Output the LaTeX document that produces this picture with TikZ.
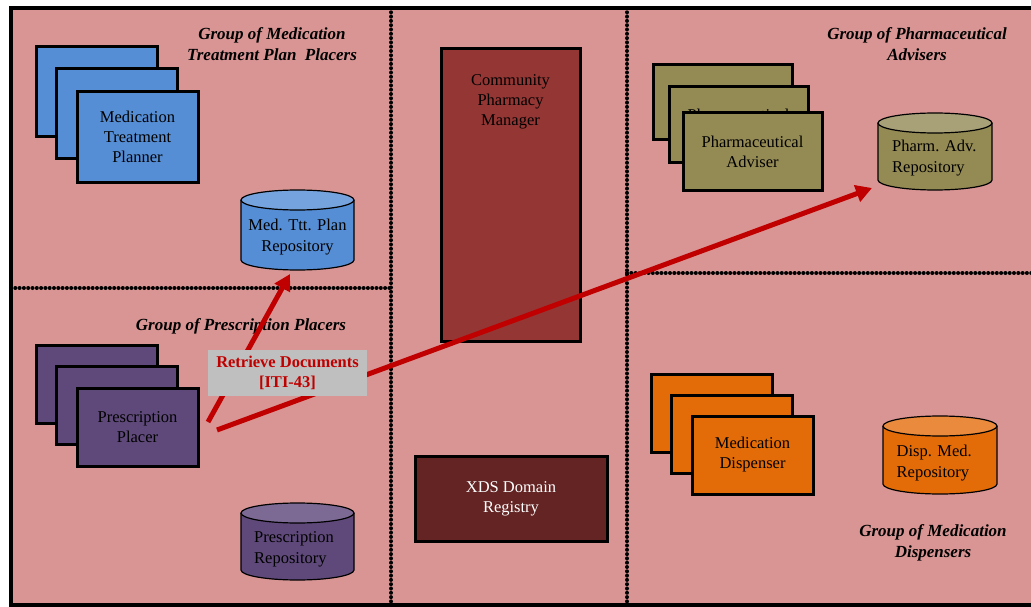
\documentclass[tikz,border=0pt]{standalone}
\usepackage{fontspec}
\setmainfont{Liberation Serif}
\usetikzlibrary{arrows.meta}

\definecolor{zonepink}{HTML}{D99594}
\definecolor{planblue}{HTML}{558ED5}
\definecolor{planbluetop}{HTML}{75A3DD}
\definecolor{advolive}{HTML}{948A54}
\definecolor{advolivetop}{HTML}{A8A077}
\definecolor{rxpurple}{HTML}{5F497A}
\definecolor{rxpurpletop}{HTML}{7C6A95}
\definecolor{disporange}{HTML}{E36C09}
\definecolor{disporangetop}{HTML}{E98A3C}
\definecolor{cpmred}{HTML}{943634}
\definecolor{xdsred}{HTML}{632423}
\definecolor{txred}{HTML}{C00000}
\definecolor{txgray}{HTML}{BFBFBF}

% repository drum: centre, half width, half height, body colour, top colour
\newcommand{\repocyl}[5]{%
  \draw[line width=1.2pt, fill=#4] ([shift={(-#2pt,#3pt-10pt)}]#1)
    -- ++(0pt,-2*#3pt+20pt)
    arc[start angle=180, end angle=360, x radius=#2pt, y radius=10pt]
    -- ++(0pt,2*#3pt-20pt);
  \draw[line width=1.2pt, fill=#5] ([yshift=#3pt-10pt]#1)
    ellipse[x radius=#2pt, y radius=10pt];
}

\tikzset{
  actor/.style={draw, line width=3pt, minimum width=121pt, minimum height=78pt,
    align=center, inner sep=0pt, font=\fontsize{16.5}{20}\selectfont},
  repotext/.style={font=\fontsize{16.5}{21}\selectfont, inner sep=0pt},
  grouplabel/.style={align=center, font=\bfseries\itshape\fontsize{17}{21}\selectfont},
  zoneline/.style={line width=4pt, line cap=round, dash pattern=on 0pt off 4.3pt},
  txline/.style={draw=txred, line width=5pt, -{Triangle[length=16pt,width=17pt]}}
}

\begin{document}
\begin{tikzpicture}[x=1pt, y=-1pt]
  \useasboundingbox (0,0) rectangle (1031,607);

  % Frame and zones
  \draw[line width=4pt, fill=zonepink] (11,8) rectangle (1050,605);
  \draw[zoneline] (391,8) -- (391,605);
  \draw[zoneline] (627,8) -- (627,605);
  \draw[zoneline] (11,288) -- (391,288);
  \draw[zoneline] (627,273) -- (1050,273);

  % Group labels
  \node[grouplabel] (gplan) at (272,44) {Group of Medication\\Treatment Plan~~Placers};
  \node[grouplabel] (gadv) at (917,44) {Group of Pharmaceutical\\Advisers};
  \node[grouplabel] (grx) at (241,326) {Group of Prescription Placers};
  \node[grouplabel] (gdisp) at (933,543) {Group of Medication\\Dispensers};

  % Medication treatment planner
  \node[actor, fill=planblue, minimum height=90pt] (planA) at (96.5,92) {};
  \node[actor, fill=planblue, minimum height=90pt] (planB) at (117,114) {};
  \node[actor, fill=planblue, minimum height=90pt] (planC) at (137.5,137) {Medication\\Treatment\\Planner};
  \coordinate (planrepoc) at (297.5,230);
  \repocyl{planrepoc}{56.5}{40}{planblue}{planbluetop}
  \node[repotext, align=center] (planrepo) at (297.5,237.5) {Med. Ttt. Plan\\Repository};

  % Prescription placer
  \node[actor, fill=rxpurple] (rxA) at (96.5,384) {};
  \node[actor, fill=rxpurple] (rxB) at (116.5,405) {};
  \node[actor, fill=rxpurple] (rxC) at (137.5,427) {Prescription\\Placer};
  \coordinate (rxrepoc) at (297.5,541.5);
  \repocyl{rxrepoc}{56.5}{38.5}{rxpurple}{rxpurpletop}
  \node[repotext, align=left, anchor=west] (rxrepo) at (254,549.5) {Prescription\\Repository};

  % Community pharmacy manager and registry
  \node[draw, line width=3pt, fill=cpmred, minimum width=139pt, minimum height=292pt,
    inner sep=0pt] (cpm) at (510.5,195) {};
  \node[anchor=north, align=center, font=\fontsize{16.5}{20}\selectfont] (cpmtext)
    at (510.5,71) {Community\\Pharmacy\\Manager};
  \node[draw, line width=3pt, fill=xdsred, text=white, minimum width=192pt,
    minimum height=85pt, align=center, font=\fontsize{16.5}{20}\selectfont]
    (xds) at (511,498.5) {XDS Domain\\Registry};

  % Pharmaceutical adviser
  \node[actor, fill=advolive, minimum width=139pt, minimum height=75pt] (advA) at (722.5,102.5) {};
  \node[actor, fill=advolive, minimum width=139pt, minimum height=76pt] (advB) at (738.5,125) {Pharmaceutical\\Adviser};
  \node[actor, fill=advolive, minimum width=139pt, minimum height=77pt] (advC) at (752.5,151.5) {Pharmaceutical\\Adviser};
  \coordinate (advrepoc) at (935,151.5);
  \repocyl{advrepoc}{57}{38.5}{advolive}{advolivetop}
  \node[repotext, align=left, anchor=west] (advrepo) at (892,158.5) {Pharm. Adv.\\Repository};

  % Medication dispenser
  \node[actor, fill=disporange] (dispA) at (711.5,413) {};
  \node[actor, fill=disporange] (dispB) at (731.5,434.5) {};
  \node[actor, fill=disporange] (dispC) at (752.5,455) {Medication\\Dispenser};
  \coordinate (disprepoc) at (940,455);
  \repocyl{disprepoc}{57}{39}{disporange}{disporangetop}
  \node[repotext, align=left, anchor=west] (disprepo) at (896.5,463) {Disp. Med.\\Repository};

  % Retrieve documents transactions
  \coordinate (rdplan) at (208,422);
  \coordinate (rdadv) at (217,430);
  \coordinate (planin) at (290,274);
  \coordinate (advin) at (872,188);
  \draw[txline] (rdplan) -- (planin);
  \draw[txline] (rdadv) -- (advin);
  \node[fill=txgray, text=txred, align=center, minimum width=159pt, minimum height=46pt,
    inner sep=0pt, font=\bfseries\fontsize{16.5}{20}\selectfont] (rdlabel)
    at (287.5,373) {Retrieve Documents\\{[ITI-43]}};

\end{tikzpicture}
\end{document}
